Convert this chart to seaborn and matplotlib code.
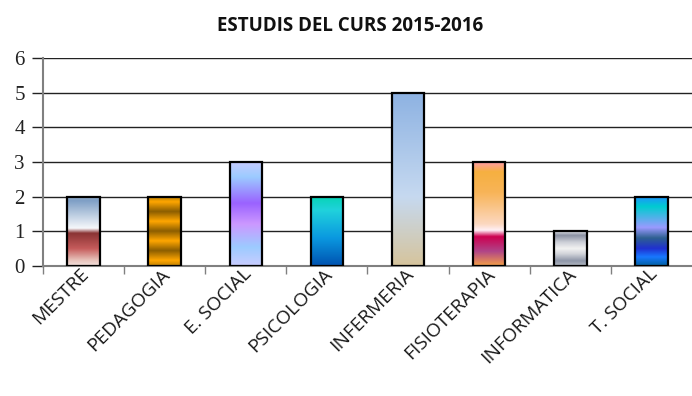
import numpy as np
import pandas as pd
import matplotlib
matplotlib.use("Agg")
import matplotlib.pyplot as plt
import matplotlib.transforms as mtransforms
from matplotlib.colors import LinearSegmentedColormap
import seaborn as sns

categories = ["MESTRE", "PEDAGOGIA", "E. SOCIAL", "PSICOLOGIA",
              "INFERMERIA", "FISIOTERAPIA", "INFORMATICA", "T. SOCIAL"]
values = [2, 2, 3, 2, 5, 3, 1, 2]
y_ticks = [0, 1, 2, 3, 4, 5, 6]
title = "ESTUDIS DEL CURS 2015-2016"

# Vertical gradient fills, listed from the top of each bar to its base
gradients = {
    "MESTRE": [(0.0, "#a4bcd6"), (0.06, "#7d9ec5"), (0.46, "#f6f8fb"),
               (0.53, "#8a3434"), (0.75, "#c55b5b"), (0.92, "#e8c4bc"), (1.0, "#f4e2de")],
    "PEDAGOGIA": [(0.0, "#b07800"), (0.08, "#ffa600"), (0.22, "#8c5e00"),
                  (0.36, "#ffa600"), (0.5, "#8c5e00"), (0.64, "#ffa600"),
                  (0.78, "#8c5e00"), (0.92, "#ffa600"), (1.0, "#c08000")],
    "E. SOCIAL": [(0.0, "#c8ccff"), (0.15, "#9ccbff"), (0.4, "#9a62ff"),
                  (0.6, "#cc98ff"), (0.82, "#9ccbff"), (1.0, "#cacdff")],
    "PSICOLOGIA": [(0.0, "#06d4b4"), (0.2, "#20d2dc"), (0.6, "#0a98e0"), (1.0, "#0052b0")],
    "INFERMERIA": [(0.0, "#8db2e2"), (0.6, "#c6d9f0"), (1.0, "#d6c49c")],
    "FISIOTERAPIA": [(0.0, "#ff9ab0"), (0.1, "#f6b040"), (0.3, "#f8b458"),
                     (0.6, "#fcd8c0"), (0.66, "#fff0f6"), (0.72, "#cc0050"),
                     (0.86, "#b04488"), (1.0, "#f4a048")],
    "INFORMATICA": [(0.0, "#e4e6ec"), (0.12, "#8a90a2"), (0.32, "#cdd0d8"),
                    (0.5, "#f2f2f2"), (0.65, "#d2d4da"), (0.85, "#8e96a8"), (1.0, "#b4bac4")],
    "T. SOCIAL": [(0.0, "#2090ff"), (0.15, "#00ccd0"), (0.45, "#9a9aff"),
                  (0.6, "#2e6090"), (0.75, "#2030d0"), (0.87, "#1878ff"), (1.0, "#0060a0")],
}

df = pd.DataFrame({"estudi": categories, "alumnes": values})

sns.set_theme(style="white")
plt.rcParams["font.family"] = ["Open Sans", "DejaVu Sans"]

fig = plt.figure(figsize=(6.92, 3.96), dpi=100)
ax = fig.add_axes([0.062, 0.328, 0.938, 0.5255])

palette = {c: gradients[c][len(gradients[c]) // 2][1] for c in categories}
sns.barplot(data=df, x="estudi", y="alumnes", hue="estudi", palette=palette,
            order=categories, width=0.4, legend=False, ax=ax,
            edgecolor="black", linewidth=1.6, saturation=1)

ax.set_xlim(-0.5, len(categories) - 0.5)
ax.set_ylim(0, 6)

# Paint each bar with its gradient, clipped to the bar outline
for patch, cat in zip(ax.patches, categories):
    x0, y0 = patch.get_x(), patch.get_y()
    w, h = patch.get_width(), patch.get_height()
    cmap = LinearSegmentedColormap.from_list(cat, gradients[cat], N=256)
    img = cmap(np.linspace(0, 1, 256))[:, None, :]
    im = ax.imshow(img, extent=(x0, x0 + w, y0, y0 + h), origin="upper",
                   aspect="auto", interpolation="bilinear", zorder=2.5)
    im.set_clip_path(patch)
    patch.set_facecolor("none")
    patch.set_zorder(3)

ax.set_xlim(-0.5, len(categories) - 0.5)
ax.set_ylim(0, 6)

# Horizontal gridlines and y ticks
ax.set_yticks(y_ticks)
ax.set_yticklabels([str(v) for v in y_ticks], fontfamily="Liberation Serif",
                   fontsize=15, color="#222222")
ax.yaxis.grid(True, color="#222222", linewidth=1.0)
ax.xaxis.grid(False)
ax.set_axisbelow(True)
ax.tick_params(axis="y", which="major", length=8, width=1.0, color="#222222",
               left=True, pad=5)

# Category ticks sit between bars
ax.set_xticks(np.arange(len(categories)) - 0.5, minor=True)
ax.tick_params(axis="x", which="minor", length=6, width=1.0, color="#808080",
               bottom=True, direction="out")
ax.tick_params(axis="x", which="major", length=0, pad=4)
ax.set_xticks(np.arange(len(categories)))
ax.set_xticklabels(categories, rotation=45, ha="right", va="center",
                   rotation_mode="anchor", fontsize=13.8, color="#1a1a1a",
                   fontfamily="Open Sans")
shift = mtransforms.ScaledTranslation(2 / 72, 0, fig.dpi_scale_trans)
for lbl in ax.get_xticklabels():
    lbl.set_transform(lbl.get_transform() + shift)

for side in ["top", "right"]:
    ax.spines[side].set_visible(False)
for side in ["left", "bottom"]:
    ax.spines[side].set_visible(True)
    ax.spines[side].set_color("#808080")
    ax.spines[side].set_linewidth(1.5)

ax.set_xlabel("")
ax.set_ylabel("")

fig.text(0.506, 0.935, title, ha="center", va="center", fontsize=13.5,
         fontweight="bold", color="#111111", family=["Open Sans", "DejaVu Sans"])

fig.savefig("out.png", dpi=100)
